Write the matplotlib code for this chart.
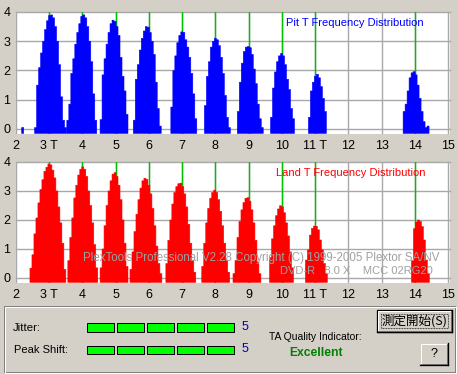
import matplotlib
matplotlib.use('Agg')
import matplotlib.pyplot as plt
from matplotlib.patches import Rectangle
from matplotlib.lines import Line2D

# ---------------- data ----------------
BIN = 0.06  # histogram bin width (T)

pit_starts = [2.17, 2.56, 3.53, 4.53, 5.53, 6.66, 7.67, 8.66, 9.66, 10.80, 13.65]
pit_heights = [
    [0.05],
    [0.05, 1.5, 2.1, 2.6, 3.0, 3.4, 3.7, 3.88, 3.9, 3.8, 3.5, 3.0, 2.2, 1.1, 0.3, 0.05],
    [0.3, 0.85, 1.9, 2.4, 2.9, 3.3, 3.6, 3.85, 3.9, 3.8, 3.5, 3.0, 2.3, 1.2, 0.3],
    [0.32, 1.85, 2.4, 2.9, 3.3, 3.6, 3.72, 3.68, 3.5, 3.2, 2.45, 1.8, 1.3, 0.5],
    [0.3, 1.7, 2.2, 2.7, 3.1, 3.35, 3.5, 3.48, 3.3, 3.0, 2.55, 1.6, 0.7, 0.1],
    [0.75, 2.0, 2.5, 2.95, 3.2, 3.32, 3.3, 3.05, 2.8, 2.45, 1.9, 1.2, 0.35],
    [0.8, 1.8, 2.3, 2.8, 3.0, 3.1, 3.05, 2.85, 2.45, 1.9, 1.15, 0.4, 0.05],
    [0.6, 1.6, 2.25, 2.65, 2.8, 2.82, 2.78, 2.55, 2.05, 1.55, 0.85, 0.35, 0.05],
    [0.4, 1.4, 1.95, 2.3, 2.5, 2.58, 2.5, 2.2, 1.7, 1.35, 0.7, 0.35],
    [0.4, 1.3, 1.6, 1.8, 1.87, 1.75, 1.45, 1.05, 0.6],
    [0.6, 0.85, 1.3, 1.75, 1.92, 1.96, 1.85, 1.5, 1.05, 0.6, 0.25, 0.05, 0.1],
]

land_starts = [2.42, 3.56, 4.53, 5.43, 6.51, 7.59, 8.53, 9.63, 10.71, 13.90]
land_heights = [
    [0.34, 0.8, 1.52, 2.07, 2.59, 3.05, 3.39, 3.68, 3.82, 3.93, 3.9, 3.72, 3.45, 3.0, 2.45, 1.9, 1.2, 0.3],
    [0.6, 1.4, 2.07, 2.76, 3.2, 3.55, 3.75, 3.83, 3.75, 3.5, 3.0, 2.5, 1.9, 1.15, 0.35],
    [0.35, 1.0, 1.8, 2.5, 3.0, 3.35, 3.58, 3.63, 3.5, 3.2, 2.7, 2.0, 1.2, 0.4],
    [0.3, 0.9, 1.6, 2.2, 2.7, 3.1, 3.35, 3.44, 3.4, 3.2, 2.9, 2.4, 1.8, 1.1, 0.5, 0.15],
    [0.5, 1.3, 2.0, 2.55, 2.95, 3.15, 3.25, 3.27, 3.15, 2.9, 2.45, 1.85, 1.2, 0.6, 0.2],
    [0.4, 1.2, 1.9, 2.4, 2.75, 2.95, 3.03, 2.95, 2.7, 2.3, 1.8, 1.2, 0.6, 0.2],
    [0.15, 0.6, 1.4, 1.95, 2.35, 2.6, 2.75, 2.77, 2.65, 2.35, 1.9, 1.3, 0.55, 0.15],
    [0.7, 1.35, 1.8, 2.15, 2.38, 2.49, 2.45, 2.25, 1.9, 1.45, 0.9, 0.35],
    [0.62, 0.97, 1.48, 1.71, 1.79, 1.78, 1.66, 1.31, 0.97, 0.5, 0.15],
    [0.6, 1.7, 1.93, 2.0, 1.95, 1.77, 1.31, 0.62, 0.15],
]

marker_T = [3, 4, 5, 6, 7, 8, 9, 10, 11, 14]
xtick_values = [2, 3, 4, 5, 6, 7, 8, 9, 10, 11, 12, 13, 14, 15]
xtick_labels = ["2", "3 T", "4", "5", "6", "7", "8", "9", "10", "11 T", "12", "13", "14", "15"]
ytick_values = [0, 1, 2, 3, 4]

jitter_score = 5
peak_shift_score = 5
quality_text = "Excellent"

# ---------------- figure ----------------
W, H = 458, 374
BG = '#D4D0C8'
fig = plt.figure(figsize=(W / 100, H / 100), dpi=100, facecolor=BG)
FONT = 'Liberation Sans'
PX = 0.72  # one pixel in points

BASE = -0.15
XMAX = 2 + 434 / 33.23


def make_axes(top_px, bot_px, ylim):
    ax = fig.add_axes([16 / W, (H - bot_px) / H, 434 / W, (bot_px - top_px) / H])
    ax.set_facecolor('white')
    ax.set_xlim(2, XMAX)
    ax.set_ylim(*ylim)
    for s in ax.spines.values():
        s.set_visible(False)
    ax.set_xticks(xtick_values)
    ax.set_xticklabels(xtick_labels, fontsize=9, family=FONT)
    ax.set_yticks(ytick_values)
    ax.set_yticklabels([str(v) for v in ytick_values], fontsize=9, family=FONT)
    ax.tick_params(axis='x', length=0, pad=4)
    ax.tick_params(axis='y', length=0, pad=4)
    for v in ytick_values:
        ax.axhline(v, color='#A8A8A8', lw=1.4 * PX, zorder=0.5, clip_on=False)
    for v in xtick_values:
        ax.axvline(v, color='#A8A8A8', lw=1.4 * PX, zorder=0.5)
    for v in marker_T:
        ax.axvline(v, color='#00C000', lw=1.4 * PX, zorder=1)
    return ax


def draw_hist(ax, starts, heights, color):
    for st, hs in zip(starts, heights):
        xs, ys = [], []
        for i, h in enumerate(hs):
            xs += [st + i * BIN, st + (i + 1) * BIN]
            ys += [h, h]
        poly_x = [xs[0]] + xs + [xs[-1]]
        poly_y = [BASE] + ys + [BASE]
        ax.fill(poly_x, poly_y, facecolor=color, edgecolor=color, linewidth=0.4,
                antialiased=True, zorder=2, snap=False)


ax1 = make_axes(12, 134, (-0.171, 4.0))
draw_hist(ax1, pit_starts, pit_heights, '#0000FF')

ax2 = make_axes(161.7, 283.3, (-0.183, 4.01))
draw_hist(ax2, land_starts, land_heights, '#FF0000')

# ---------------- overlay (pixel coordinates) ----------------
ov = fig.add_axes([0, 0, 1, 1])
ov.set_xlim(0, W)
ov.set_ylim(H, 0)
ov.axis('off')
ov.patch.set_visible(False)

ov.text(286, 23, "Pit T Frequency Distribution", color='#0000FF', fontsize=8.0,
        family=FONT, ha='left', va='center')
ov.text(276, 172.5, "Land T Frequency Distribution", color='#FF0000', fontsize=8.0,
        family=FONT, ha='left', va='center')
ov.text(83, 258.5, "PlexTools Professional V2.28 Copyright (C) 1999-2005 Plextor SA/NV",
        color='#A0A0A0', fontsize=8.3, family=FONT, ha='left', va='center', zorder=5)
ov.text(280, 271, "DVD-R   8.0 X    MCC 02RG20",
        color='#A0A0A0', fontsize=8.0, family=FONT, ha='left', va='center', zorder=5)

# group box (etched)
ov.add_patch(Rectangle((3.5, 305.5), 451, 66, fill=False, ec='#808080', lw=PX))
ov.add_patch(Rectangle((4.5, 306.5), 451, 66, fill=False, ec='white', lw=PX))

ov.text(13, 328, "Jitter:", fontsize=8.2, family=FONT, ha='left', va='center')
ov.text(14, 350, "Peak Shift:", fontsize=8.0, family=FONT, ha='left', va='center')


def level_bar(score, y0):
    for i in range(score):
        ov.add_patch(Rectangle((86.5 + i * 30, y0), 27, 8.3, fc='#00FF00', ec='black', lw=PX))


level_bar(jitter_score, 323.3)
level_bar(peak_shift_score, 345.7)
ov.text(245, 327.5, str(jitter_score), color='#0000C0', fontsize=9, family=FONT,
        ha='center', va='center')
ov.text(245, 349.5, str(peak_shift_score), color='#0000C0', fontsize=9, family=FONT,
        ha='center', va='center')

ov.text(269, 337.5, "TA Quality Indicator:", fontsize=7.5, family=FONT, ha='left', va='center')
ov.text(316, 353.5, quality_text, color='#008000', fontsize=8.7, family=FONT,
        fontweight='bold', ha='center', va='center')


def button(x0, y0, w, h, label, default=False, fam=None):
    ov.add_patch(Rectangle((x0, y0), w, h, fc=BG, ec='none'))
    ov.add_line(Line2D([x0 + 1, x0 + w - 1], [y0 + 1, y0 + 1], color='white', lw=PX))
    ov.add_line(Line2D([x0 + 1, x0 + 1], [y0 + 1, y0 + h - 1], color='white', lw=PX))
    ov.add_line(Line2D([x0 + 1, x0 + w - 1.5], [y0 + h - 1.5, y0 + h - 1.5], color='#808080', lw=PX))
    ov.add_line(Line2D([x0 + w - 1.5, x0 + w - 1.5], [y0 + 1, y0 + h - 1.5], color='#808080', lw=PX))
    ov.add_line(Line2D([x0, x0 + w], [y0 + h, y0 + h], color='black', lw=PX * 1.3))
    ov.add_line(Line2D([x0 + w, x0 + w], [y0, y0 + h], color='black', lw=PX * 1.3))
    if default:
        ov.add_patch(Rectangle((x0, y0), w, h, fill=False, ec='black', lw=PX * 1.3))
        ov.add_patch(Rectangle((x0 + 4, y0 + 4), w - 8, h - 8, fill=False, ec='black',
                               lw=PX * 0.8, ls=(0, (1, 1))))
    ov.text(x0 + w / 2, y0 + h / 2, label, fontsize=9, family=fam or FONT,
            ha='center', va='center')


button(377, 309.5, 75, 22.5, "測定開始(S)", default=True,
       fam=['Noto Sans CJK JP', 'DejaVu Sans'])
button(420, 342.5, 28, 22.5, "?")

fig.savefig('out.png', dpi=100, facecolor=BG)
